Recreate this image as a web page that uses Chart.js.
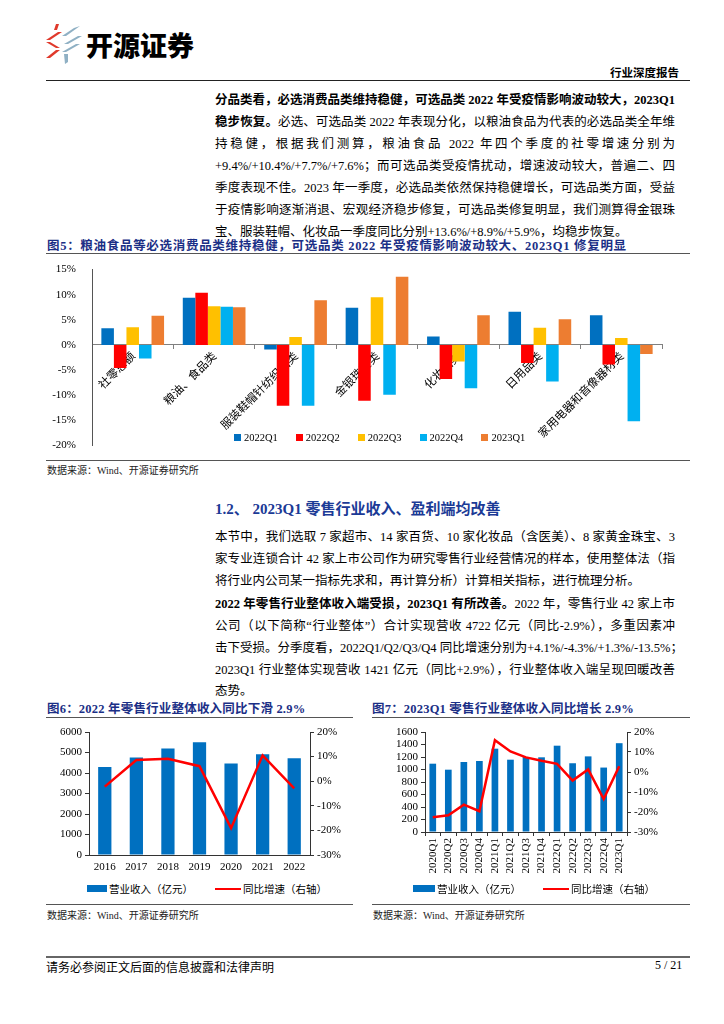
<!DOCTYPE html>
<html lang="zh-CN">
<head>
<meta charset="utf-8">
<title>行业深度报告 5/21</title>
<script src="https://cdn.jsdelivr.net/npm/chart.js@4.4.0/dist/chart.umd.min.js"></script>
<style>
  body { margin: 0; width: 724px; height: 1024px; position: relative; overflow: hidden; background: #fff;
         font-family: "Liberation Serif", "Noto Sans CJK SC", serif; color: #000; }
  .abs { position: absolute; }
  .ln { position: absolute; left: 215px; width: 460px; font-size: 12.5px; line-height: 22px; white-space: nowrap;
        text-align: justify; text-align-last: justify; }
  .ln.last { text-align-last: left; }
  .fig-title { position: absolute; font-size: 12.5px; font-weight: bold; color: #1b2f86; letter-spacing: 0.2px; }
  .rule { position: absolute; height: 0; border-top: 1.5px solid #555; }
  .src { position: absolute; font-size: 10px; color: #222; }
  .leg { position: absolute; font-size: 10.5px; display: flex; align-items: center; white-space: nowrap; }
  .leg i { display: inline-block; }
  canvas { position: absolute; }
</style>
</head>
<body>

<!-- header -->
<svg class="abs" style="left:44px;top:22px" width="40" height="44" viewBox="0 0 40 44">
  <polygon points="12,2 15,2 13,8 10,8" fill="#e0392b"/>
  <polygon points="14,10 18,10 6,18 2,18" fill="#e0392b"/>
  <polygon points="2,20 6,20 16,26 12,26" fill="#e0392b"/>
  <polygon points="12,28 16,28 6,36 2,36" fill="#e0392b"/>
  <polygon points="30,6 36,4 22,14 18,14" fill="#8fb0c4"/>
  <polygon points="34,14 38,14 24,22 20,22" fill="#8fb0c4"/>
  <polygon points="32,22 36,22 22,30 18,30" fill="#8fb0c4"/>
  <polygon points="20,32 24,32 24,40 21,42" fill="#8fb0c4"/>
</svg>
<div class="abs" style="left:86px;top:25px;font-family:'Noto Sans CJK SC';font-weight:900;font-size:27px;letter-spacing:0px">开源证券</div>
<div class="abs" style="left:610px;top:64px;font-family:'Noto Sans CJK SC';font-weight:bold;font-size:11.5px">行业深度报告</div>
<div class="rule" style="left:46px;top:80px;width:644px;border-top:1.5px solid #222"></div>

<!-- paragraph 1 -->
<div class="ln" style="top:89px;font-weight:bold">分品类看，必选消费品类维持稳健，可选品类 2022 年受疫情影响波动较大，2023Q1</div>
<div class="ln" style="top:111px"><b>稳步恢复。</b>必选、可选品类 2022 年表现分化，以粮油食品为代表的必选品类全年维</div>
<div class="ln" style="top:133px">持稳健，根据我们测算，粮油食品 2022 年四个季度的社零增速分别为</div>
<div class="ln" style="top:155px">+9.4%/+10.4%/+7.7%/+7.6%；而可选品类受疫情扰动，增速波动较大，普遍二、四</div>
<div class="ln" style="top:177px">季度表现不佳。2023 年一季度，必选品类依然保持稳健增长，可选品类方面，受益</div>
<div class="ln" style="top:199px">于疫情影响逐渐消退、宏观经济稳步修复，可选品类修复明显，我们测算得金银珠</div>
<div class="ln last" style="top:221px">宝、服装鞋帽、化妆品一季度同比分别+13.6%/+8.9%/+5.9%，均稳步恢复。</div>

<!-- figure 5 -->
<div class="fig-title" style="left:47px;top:235px;letter-spacing:0.7px">图5：粮油食品等必选消费品类维持稳健，可选品类 2022 年受疫情影响波动较大、2023Q1 修复明显</div>
<div class="rule" style="left:46px;top:253px;width:644px"></div>
<canvas id="catChart" width="644" height="205" style="left:46px;top:255px"></canvas>
<div id="catLegend" class="leg" style="left:234px;top:432px"></div>
<div class="rule" style="left:46px;top:460px;width:644px"></div>
<div class="src" style="left:47px;top:462px">数据来源：Wind、开源证券研究所</div>

<!-- section 1.2 -->
<div class="abs" style="left:215px;top:497px;font-size:15px;font-weight:bold;color:#1b3a96">1.2、 2023Q1 零售行业收入、盈利端均改善</div>

<div class="ln" style="top:526px">本节中，我们选取 7 家超市、14 家百货、10 家化妆品（含医美）、8 家黄金珠宝、3</div>
<div class="ln" style="top:548px">家专业连锁合计 42 家上市公司作为研究零售行业经营情况的样本，使用整体法（指</div>
<div class="ln last" style="top:570px">将行业内公司某一指标先求和，再计算分析）计算相关指标，进行梳理分析。</div>

<div class="ln" style="top:593px"><b>2022 年零售行业整体收入端受损，2023Q1 有所改善。</b>2022 年，零售行业 42 家上市</div>
<div class="ln" style="top:615px">公司（以下简称“行业整体”）合计实现营收 4722 亿元（同比-2.9%），多重因素冲</div>
<div class="ln" style="top:637px">击下受损。分季度看，2022Q1/Q2/Q3/Q4 同比增速分别为+4.1%/-4.3%/+1.3%/-13.5%；</div>
<div class="ln" style="top:659px">2023Q1 行业整体实现营收 1421 亿元（同比+2.9%），行业整体收入端呈现回暖改善</div>
<div class="ln last" style="top:680px">态势。</div>

<!-- figure 6 / 7 -->
<div class="fig-title" style="left:47px;top:698px">图6：2022 年零售行业整体收入同比下滑 2.9%</div>
<div class="fig-title" style="left:372px;top:698px">图7：2023Q1 零售行业整体收入同比增长 2.9%</div>
<div class="rule" style="left:46px;top:717px;width:307px"></div>
<div class="rule" style="left:372px;top:717px;width:318px"></div>
<canvas id="yearChart" width="307" height="155" style="left:46px;top:722px"></canvas>
<canvas id="quarterChart" width="318" height="160" style="left:372px;top:722px"></canvas>
<div class="leg" style="left:87px;top:881px">
  <i style="width:20px;height:7px;background:#0070c0"></i><span style="margin-left:2px">营业收入（亿元）</span>
  <i style="width:26px;height:2px;background:#ff0000;margin-left:22px"></i><span style="margin-left:2px">同比增速（右轴）</span>
</div>
<div class="leg" style="left:413px;top:881px">
  <i style="width:22px;height:7px;background:#0070c0"></i><span style="margin-left:2px">营业收入（亿元）</span>
  <i style="width:26px;height:2px;background:#ff0000;margin-left:22px"></i><span style="margin-left:2px">同比增速（右轴）</span>
</div>
<div class="rule" style="left:46px;top:904px;width:307px"></div>
<div class="rule" style="left:372px;top:904px;width:318px"></div>
<div class="src" style="left:47px;top:907px">数据来源：Wind、开源证券研究所</div>
<div class="src" style="left:373px;top:907px">数据来源：Wind、开源证券研究所</div>

<!-- footer -->
<div class="rule" style="left:46px;top:956px;width:644px;border-top:2px solid #666"></div>
<div class="abs" style="left:46px;top:958px;font-size:12px">请务必参阅正文后面的信息披露和法律声明</div>
<div class="abs" style="left:655px;top:958px;font-size:12px">5 / 21</div>

<script>
  // 图5: 分品类社零同比增速 (%)
  const categories = ['社零总额', '粮油、食品类', '服装鞋帽针纺织品类', '金银珠宝类', '化妆品类', '日用品类', '家用电器和音像器材类'];
  const seriesNames = ['2022Q1', '2022Q2', '2022Q3', '2022Q4', '2023Q1'];
  const q1of2022 = [3.3, 9.4, -0.9, 7.4, 1.7, 6.6, 5.9];
  const q2of2022 = [-4.6, 10.4, -12.1, -11.1, -6.8, -3.6, -3.9];
  const q3of2022 = [3.5, 7.7, 1.6, 9.5, -3.3, 3.4, 1.4];
  const q4of2022 = [-2.7, 7.6, -12.1, -9.9, -8.6, -7.3, -15.2];
  const q1of2023 = [5.8, 7.5, 8.9, 13.6, 5.9, 5.1, -1.8];
  const seriesColors = ['#0070c0', '#ff0000', '#ffc000', '#00b0f0', '#ed7d31'];

  // 图6: 年度营收 (亿元) 与同比 (%)
  const years = ['2016', '2017', '2018', '2019', '2020', '2021', '2022'];
  const yearRevenue = [4290, 4760, 5190, 5500, 4460, 4910, 4722];
  const yearGrowth = [-2.2, 8.6, 9.1, 6.1, -19.1, 10.5, -2.9];

  // 图7: 季度营收 (亿元) 与同比 (%)
  const quarters = ['2020Q1', '2020Q2', '2020Q3', '2020Q4', '2021Q1', '2021Q2', '2021Q3', '2021Q4',
                    '2022Q1', '2022Q2', '2022Q3', '2022Q4', '2023Q1'];
  const quarterRevenue = [1093, 997, 1120, 1136, 1333, 1157, 1200, 1195, 1381, 1100, 1210, 1031, 1421];
  const quarterGrowth = [-22.6, -21.6, -16.3, -19.6, 15.9, 10.3, 7.3, 5.6, 4.1, -4.3, 1.3, -13.5, 2.9];

  Chart.defaults.font.family = '"Liberation Serif", "Noto Sans CJK SC", serif';
  Chart.defaults.font.size = 11;
  Chart.defaults.color = '#000';
  Chart.defaults.animation = false;
  Chart.defaults.plugins.legend.display = false;
  Chart.defaults.plugins.tooltip.enabled = false;

  function pct(v) { return v + '%'; }
  function plain(v) { return String(v); }
  function fixWidth(w) { return function (scale) { scale.width = w; }; }
  function fixHeight(h) { return function (scale) { scale.height = h; }; }

  /*
   * 图5: grouped bars, x axis sits on the 0% line
   */
  let seriesData = [q1of2022, q2of2022, q3of2022, q4of2022, q1of2023];
  var catCtx = document.getElementById('catChart').getContext('2d');
  var catChart = new Chart(catCtx, {
    type: 'bar',
    data: {
      labels: categories,
      datasets: seriesNames.map(function (name, i) {
        return {
          label: name,
          data: seriesData[i],
          backgroundColor: seriesColors[i],
          categoryPercentage: 0.77,
          barPercentage: 1.0
        };
      })
    },
    options: {
      responsive: false,
      layout: { padding: { left: 0, right: 28, top: 8, bottom: 9 } },
      scales: {
        x: {
          position: { y: 0 },
          grid: { display: true, drawOnChartArea: false, tickLength: 4, color: '#808080' },
          border: { color: '#808080' },
          ticks: { autoSkip: false, minRotation: 45, maxRotation: 45, padding: 0,
                   font: { family: '"Noto Sans CJK SC"', size: 11.5 } }
        },
        y: {
          min: -20, max: 15,
          grid: { display: false },
          border: { color: '#555' },
          ticks: { stepSize: 5, callback: pct, padding: 8, autoSkip: false },
          afterFit: fixWidth(46)
        }
      }
    }
  });

  // legend for 图5, drawn inside the plot like the original
  let legendBox = document.getElementById('catLegend');
  seriesNames.forEach(function (name, i) {
    legendBox.insertAdjacentHTML('beforeend',
      '<i style="width:7px;height:7px;background:' + seriesColors[i] + ';margin-left:' + (i ? 18 : 0) + 'px"></i>' +
      '<span style="margin-left:3px">' + name + '</span>');
  });

  /*
   * bar + line combo used by 图6 and 图7
   */
  function comboChart(id, labels, revenue, growth, opts) {
    var ctx = document.getElementById(id).getContext('2d');
    return new Chart(ctx, {
      type: 'bar',
      data: {
        labels: labels,
        datasets: [{
          type: 'line',
          label: '同比增速（右轴）',
          data: growth,
          yAxisID: 'y1',
          borderColor: '#ff0000',
          borderWidth: 2.5,
          pointRadius: 0,
          tension: 0,
          order: 0
        }, {
          label: '营业收入（亿元）',
          data: revenue,
          yAxisID: 'y',
          backgroundColor: '#0070c0',
          categoryPercentage: 1.0,
          barPercentage: opts.barPct,
          order: 1
        }]
      },
      options: {
        responsive: false,
        layout: { padding: opts.padding },
        scales: {
          x: {
            grid: { display: opts.xTicks, drawOnChartArea: false, tickLength: 4, color: '#333' },
            border: { color: '#333' },
            ticks: { autoSkip: false, minRotation: opts.rotation, maxRotation: opts.rotation, padding: 2,
                     font: { size: opts.xFont } },
            afterFit: fixHeight(opts.xHeight)
          },
          y: {
            position: 'left',
            min: 0, max: opts.leftMax,
            grid: { display: true, drawOnChartArea: false, tickLength: 4, color: '#333' },
            border: { color: '#333' },
            ticks: { stepSize: opts.leftStep, padding: 3, callback: plain, autoSkip: false },
            afterFit: fixWidth(opts.leftWidth)
          },
          y1: {
            position: 'right',
            min: -30, max: 20,
            grid: { display: true, drawOnChartArea: false, tickLength: 4, color: '#333' },
            border: { color: '#333' },
            ticks: { stepSize: 10, callback: pct, padding: 3, autoSkip: false },
            afterFit: fixWidth(opts.rightWidth)
          }
        }
      }
    });
  }

  var yearChart = comboChart('yearChart', years, yearRevenue, yearGrowth, {
    barPct: 0.42, padding: { left: 0, right: 0, top: 10, bottom: 6 },
    xTicks: false, rotation: 0, xFont: 11, xHeight: 16,
    leftMax: 6000, leftStep: 1000, leftWidth: 43, rightWidth: 43
  });

  var quarterChart = comboChart('quarterChart', quarters, quarterRevenue, quarterGrowth, {
    barPct: 0.43, padding: { left: 0, right: 23, top: 10, bottom: 2 },
    xTicks: true, rotation: 90, xFont: 11, xHeight: 48,
    leftMax: 1600, leftStep: 200, leftWidth: 53, rightWidth: 40
  });
</script>
</body>
</html>
